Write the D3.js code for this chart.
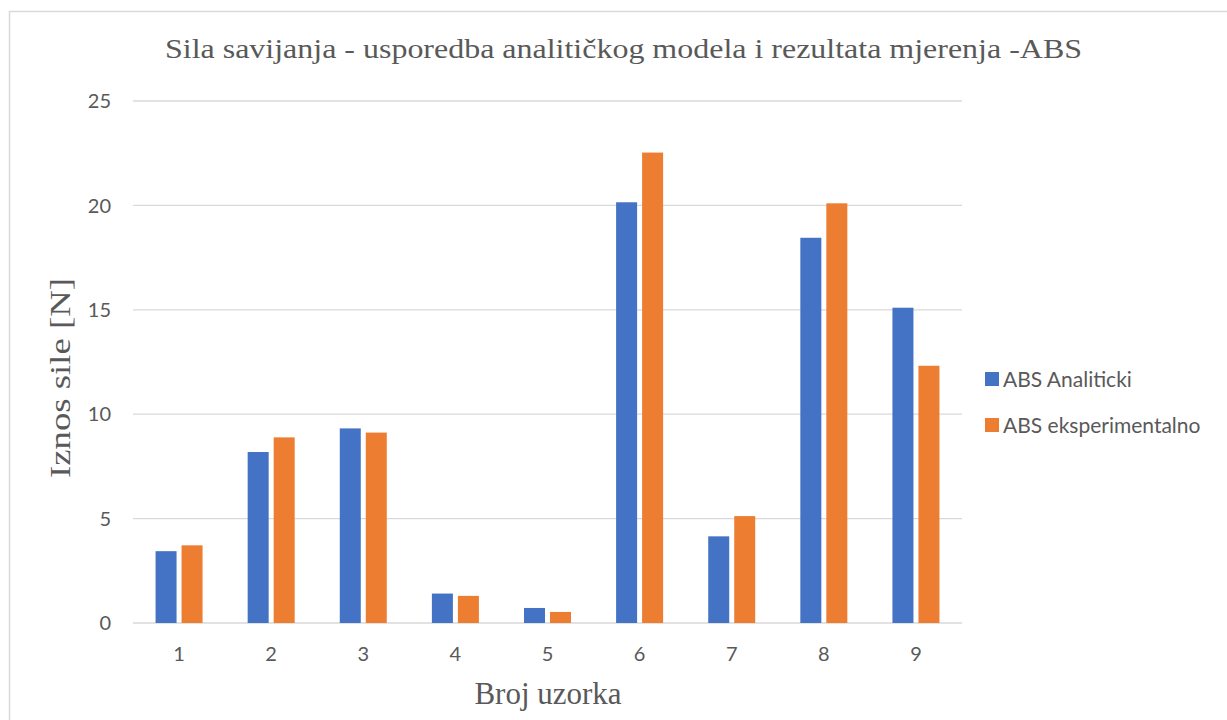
<!DOCTYPE html>
<html>
<head>
<meta charset="utf-8">
<script src="https://cdn.jsdelivr.net/npm/d3@7"></script>
<style>
  html, body { margin: 0; padding: 0; background: #fff; }
  svg { display: block; }
</style>
</head>
<body>
<svg id="chart" width="1227" height="720"></svg>
<script>
// Sample numbers and measured bending forces (N)
const categories = ["1", "2", "3", "4", "5", "6", "7", "8", "9"];
const seriesNames = ["ABS Analiticki", "ABS eksperimentalno"];
const analiticki = [3.44, 8.19, 9.32, 1.41, 0.72, 20.15, 4.15, 18.45, 15.10];
const eksperimentalno = [3.72, 8.89, 9.12, 1.30, 0.53, 22.53, 5.12, 20.10, 12.32];
const yTicks = [0, 5, 10, 15, 20, 25];
const colors = ["#4472C4", "#ED7D31"];

const title = "Sila savijanja - usporedba analitičkog modela i rezultata mjerenja -ABS";
const xTitle = "Broj uzorka";
const yTitle = "Iznos sile [N]";

const sansFont = "Lato, 'Open Sans', sans-serif";
const serifFont = "'Liberation Serif', 'Times New Roman', serif";
const textColor = "#595959";

const svg = d3.select("#chart");
const W = 1227, H = 720;
const plot = { left: 133, right: 962, top: 101, bottom: 623 };

// Outer chart frame
svg.append("rect")
  .attr("x", 9.5).attr("y", 11.5)
  .attr("width", W).attr("height", H)
  .attr("fill", "#fff").attr("stroke", "#d9d9d9").attr("stroke-width", 1.5);

const x = d3.scaleBand().domain(categories).range([plot.left, plot.right]);
const y = d3.scaleLinear().domain([0, 25]).range([plot.bottom, plot.top]);

// Horizontal gridlines
svg.append("g").selectAll("line").data(yTicks).join("line")
  .attr("x1", plot.left).attr("x2", plot.right)
  .attr("y1", d => y(d)).attr("y2", d => y(d))
  .attr("stroke", "#d9d9d9").attr("stroke-width", 1.3);

// Y tick labels
svg.append("g").selectAll("text").data(yTicks).join("text")
  .attr("x", 111).attr("y", d => y(d))
  .attr("dy", "0.36em")
  .attr("text-anchor", "end")
  .attr("font-family", sansFont)
  .attr("font-size", 20)
  .attr("fill", textColor)
  .text(d => d);

// X tick labels
svg.append("g").selectAll("text").data(categories).join("text")
  .attr("x", d => x(d) + x.bandwidth() / 2)
  .attr("y", 661)
  .attr("text-anchor", "middle")
  .attr("font-family", sansFont)
  .attr("font-size", 20)
  .attr("fill", textColor)
  .text(d => d);

// Bars: two series side by side in each category
const barW = 21, barGap = 5;
const series = [analiticki, eksperimentalno];
series.forEach((vals, si) => {
  svg.append("g").selectAll("rect").data(categories).join("rect")
    .attr("x", d => {
      const c = x(d) + x.bandwidth() / 2;
      return si === 0 ? c - barGap / 2 - barW : c + barGap / 2;
    })
    .attr("y", (d, i) => y(vals[i]))
    .attr("width", barW)
    .attr("height", (d, i) => y(0) - y(vals[i]))
    .attr("fill", colors[si]);
});

// Chart title (glyphs widened to the title's full width)
svg.append("text")
  .attr("x", 165).attr("y", 58)
  .attr("textLength", 917)
  .attr("lengthAdjust", "spacingAndGlyphs")
  .attr("font-family", serifFont)
  .attr("font-size", 28)
  .attr("fill", textColor)
  .text(title);

// Axis titles
svg.append("text")
  .attr("x", 548).attr("y", 704)
  .attr("text-anchor", "middle")
  .attr("font-family", serifFont)
  .attr("font-size", 31)
  .attr("fill", textColor)
  .text(xTitle);

svg.append("text")
  .attr("transform", "translate(70,478) rotate(-90)")
  .attr("textLength", 200)
  .attr("lengthAdjust", "spacingAndGlyphs")
  .attr("font-family", serifFont)
  .attr("font-size", 30)
  .attr("fill", textColor)
  .text(yTitle);

// Legend
const legend = svg.append("g").selectAll("g").data(seriesNames).join("g")
  .attr("transform", (d, i) => `translate(985,${379 + i * 46})`);
legend.append("rect")
  .attr("x", 0).attr("y", -7).attr("width", 14).attr("height", 14)
  .attr("fill", (d, i) => colors[i]);
legend.append("text")
  .attr("x", 18).attr("y", 0).attr("dy", "0.36em")
  .attr("font-family", sansFont)
  .attr("font-size", 21)
  .attr("fill", textColor)
  .text(d => d);
</script>
</body>
</html>
